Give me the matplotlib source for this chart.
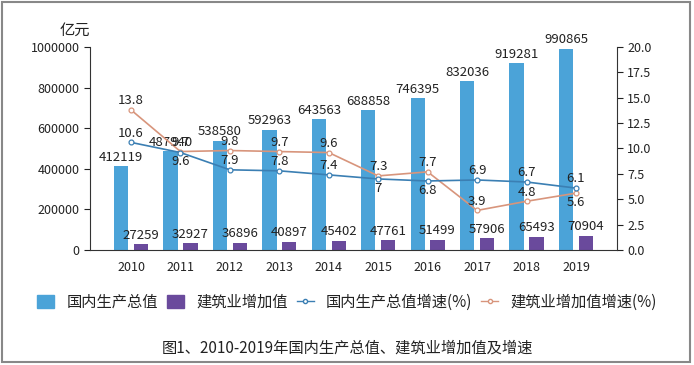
import matplotlib
matplotlib.use("Agg")
import matplotlib.pyplot as plt
import numpy as np
from matplotlib.lines import Line2D
from matplotlib.patches import Patch, Rectangle

plt.rcParams['font.family'] = ['Noto Sans CJK SC', 'DejaVu Sans']

years = ['2010', '2011', '2012', '2013', '2014', '2015', '2016', '2017', '2018', '2019']
gdp = [412119, 487940, 538580, 592963, 643563, 688858, 746395, 832036, 919281, 990865]
constr = [27259, 32927, 36896, 40897, 45402, 47761, 51499, 57906, 65493, 70904]
gdp_growth = [10.6, 9.6, 7.9, 7.8, 7.4, 7, 6.8, 6.9, 6.7, 6.1]
constr_growth = [13.8, 9.7, 9.8, 9.7, 9.6, 7.3, 7.7, 3.9, 4.8, 5.6]
gdp_growth_labels = ['10.6', '9.6', '7.9', '7.8', '7.4', '7', '6.8', '6.9', '6.7', '6.1']
constr_growth_labels = ['13.8', '9.7', '9.8', '9.7', '9.6', '7.3', '7.7', '3.9', '4.8', '5.6']
gdp_lab_pos = ['a', 'b', 'a', 'a', 'a', 'b', 'b', 'a', 'a', 'a']
con_lab_pos = ['a', 'a', 'a', 'a', 'a', 'a', 'a', 'a', 'a', 'b']

c_gdp = '#4BA3D8'
c_con = '#6A4A9C'
c_gl = '#3B7FB3'
c_cl = '#D8957C'
txt = '#222222'

fig = plt.figure(figsize=(6.94, 3.65), dpi=100)
ax = fig.add_axes([90/694, 1-250/365, (617-90)/694, (250-47)/365])
x = np.arange(len(years))
w = 0.29
ax.bar(x - 0.2, gdp, width=w, color=c_gdp, zorder=2)
ax.bar(x + 0.2, constr, width=w, color=c_con, zorder=2)
ax.set_xlim(-0.83, 9.83)
ax.set_ylim(0, 1000000)
ax.set_yticks(np.arange(0, 1000001, 200000))
ax.set_yticklabels([str(v) for v in range(0, 1000001, 200000)])
ax.set_xticks(x)
ax.set_xticklabels(years)
ax.tick_params(axis='x', length=0, pad=8, labelsize=9, colors=txt)
ax.tick_params(axis='y', length=4, labelsize=9, colors=txt)
ax.spines['top'].set_visible(False)
ax.spines['right'].set_visible(False)
for s in ['left', 'bottom']:
    ax.spines[s].set_color('#333333')

for i in range(len(years)):
    ax.text(x[i] - 0.2, gdp[i] + 12000, str(gdp[i]), ha='center', va='bottom', fontsize=9.5, color=txt, zorder=5)
    ax.text(x[i] + 0.2, constr[i] + 12000, str(constr[i]), ha='center', va='bottom', fontsize=9.5, color=txt, zorder=5)

ax2 = ax.twinx()
ax2.set_ylim(0, 20)
ax2.set_yticks(np.arange(0, 20.01, 2.5))
ax2.set_yticklabels([f'{v:.1f}' for v in np.arange(0, 20.01, 2.5)])
ax2.tick_params(axis='y', length=4, labelsize=9, colors=txt)
ax2.spines['top'].set_visible(False)
ax2.spines['left'].set_visible(False)
ax2.spines['bottom'].set_visible(False)
ax2.spines['right'].set_color('#333333')

ax2.plot(x, constr_growth, color=c_cl, lw=1.2, marker='o', ms=3.5, mfc='white', mec=c_cl, mew=0.9, zorder=3)
ax2.plot(x, gdp_growth, color=c_gl, lw=1.2, marker='o', ms=3.5, mfc='white', mec=c_gl, mew=0.9, zorder=3)

for i in range(len(years)):
    if gdp_lab_pos[i] == 'a':
        ax2.annotate(gdp_growth_labels[i], (x[i], gdp_growth[i]), xytext=(0, 2), textcoords='offset points', ha='center', va='bottom', fontsize=9.5, color=txt)
    else:
        ax2.annotate(gdp_growth_labels[i], (x[i], gdp_growth[i]), xytext=(0, -2), textcoords='offset points', ha='center', va='top', fontsize=9.5, color=txt)
    if con_lab_pos[i] == 'a':
        ax2.annotate(constr_growth_labels[i], (x[i], constr_growth[i]), xytext=(0, 2), textcoords='offset points', ha='center', va='bottom', fontsize=9.5, color=txt)
    else:
        ax2.annotate(constr_growth_labels[i], (x[i], constr_growth[i]), xytext=(0, -2), textcoords='offset points', ha='center', va='top', fontsize=9.5, color=txt)

fig.text(75/694, 1-30/365, '亿元', ha='center', va='center', fontsize=11, color=txt)

handles = [Patch(color=c_gdp), Patch(color=c_con),
           Line2D([], [], color=c_gl, lw=1, marker='o', ms=3, mfc='white', mec=c_gl),
           Line2D([], [], color=c_cl, lw=1, marker='o', ms=3, mfc='white', mec=c_cl)]
labels = ['国内生产总值', '建筑业增加值', '国内生产总值增速(%)', '建筑业增加值增速(%)']
fig.legend(handles, labels, loc='center', bbox_to_anchor=(0.5, 1-302/365), ncol=4, frameon=False,
           fontsize=11, handlelength=1.1, handleheight=0.9, columnspacing=0.6, handletextpad=0.8,
           labelcolor=txt)

fig.text(0.5, 1-348/365, '图1、2010-2019年国内生产总值、建筑业增加值及增速', ha='center', va='center', fontsize=11, color=txt)

fig.patches.append(Rectangle((2/694, 1-362/365), 688/694, 360/365, transform=fig.transFigure,
                             fill=False, edgecolor='#888888', lw=1.5))

fig.savefig('out.png', dpi=100)
